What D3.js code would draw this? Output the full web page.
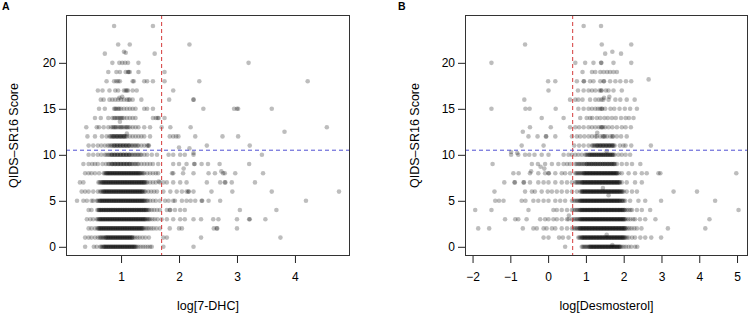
<!DOCTYPE html>
<html lang="en">
<head>
<meta charset="UTF-8">
<title>QIDS-SR16 score vs sterol levels</title>
<script src="https://d3js.org/d3.v7.min.js"></script>
<style>
  body { margin: 0; background: #fff; font-family: 'Liberation Sans', Arial, sans-serif; }
  .tick text { font-size: 12px; fill: #000; font-family: 'Liberation Sans', Arial, sans-serif; }
  .tick line { stroke: #222; }
  .title { font-size: 12.5px; fill: #000; }
  .letter { font-size: 10.5px; font-weight: bold; fill: #000; }
</style>
</head>
<body>
<div id="chart"></div>
<script>
// log[7-DHC] per participant, grouped by QIDS-SR16 score (index = score)
const dhcByScore = [
  [0.38,0.53,0.58,0.64,0.66,0.68,0.70,0.72,0.74,0.76,0.78,0.80,0.82,0.84,0.86,0.88,0.90,0.92,0.94,0.96,0.98,1.00,1.02,1.04,1.06,1.08,1.10,1.12,1.14,1.16,1.18,1.20,1.22,1.24,1.27,1.30,1.34,1.38,1.42,1.46,1.50,1.53,1.73,2.25],
  [0.38,0.44,0.49,0.55,0.60,0.63,0.65,0.67,0.69,0.71,0.73,0.75,0.77,0.79,0.81,0.83,0.85,0.87,0.89,0.91,0.93,0.95,0.97,0.99,1.01,1.03,1.05,1.07,1.09,1.11,1.13,1.15,1.17,1.19,1.21,1.24,1.28,1.32,1.37,1.42,1.48,1.73,1.79,2.38,3.75],
  [0.44,0.49,0.55,0.59,0.61,0.63,0.65,0.67,0.69,0.71,0.73,0.75,0.77,0.79,0.81,0.83,0.85,0.87,0.89,0.91,0.93,0.95,0.97,0.99,1.01,1.03,1.05,1.07,1.09,1.11,1.13,1.15,1.17,1.19,1.21,1.23,1.25,1.27,1.29,1.31,1.33,1.35,1.37,1.39,1.42,1.45,1.48,1.52,1.56,1.61,1.67,1.84,2.00,2.05,2.60,2.65,2.66,3.00],
  [0.41,0.47,0.52,0.58,0.60,0.62,0.64,0.66,0.68,0.70,0.72,0.74,0.76,0.78,0.80,0.82,0.84,0.86,0.88,0.90,0.92,0.94,0.96,0.98,1.00,1.02,1.04,1.06,1.08,1.10,1.12,1.14,1.16,1.18,1.20,1.22,1.24,1.26,1.28,1.30,1.32,1.34,1.36,1.38,1.40,1.42,1.44,1.46,1.48,1.50,1.54,1.58,1.63,1.70,1.79,1.90,2.02,2.10,2.25,2.38,2.59,2.68,3.00,3.21,3.22,3.49],
  [0.44,0.49,0.59,0.61,0.63,0.65,0.67,0.69,0.71,0.73,0.75,0.77,0.79,0.81,0.83,0.85,0.87,0.89,0.91,0.93,0.95,0.97,0.99,1.01,1.03,1.05,1.07,1.09,1.11,1.13,1.15,1.17,1.19,1.21,1.23,1.25,1.27,1.29,1.31,1.33,1.35,1.37,1.39,1.41,1.43,1.45,1.47,1.49,1.53,1.57,1.62,1.67,1.79,1.84,1.85,1.93,2.02,2.10,3.05,3.68],
  [0.24,0.35,0.41,0.49,0.52,0.58,0.60,0.62,0.64,0.66,0.68,0.70,0.72,0.74,0.76,0.78,0.80,0.82,0.84,0.86,0.88,0.90,0.92,0.94,0.96,0.98,1.00,1.02,1.04,1.06,1.08,1.10,1.12,1.14,1.16,1.18,1.20,1.22,1.24,1.26,1.28,1.30,1.32,1.34,1.36,1.38,1.40,1.42,1.44,1.46,1.50,1.55,1.60,1.67,1.76,1.82,1.90,1.93,2.05,2.13,2.20,2.28,2.39,2.40,2.51,2.71,4.19],
  [0.32,0.38,0.44,0.52,0.60,0.64,0.66,0.68,0.70,0.72,0.74,0.76,0.78,0.80,0.82,0.84,0.86,0.88,0.90,0.92,0.94,0.96,0.98,1.00,1.02,1.04,1.06,1.08,1.10,1.12,1.14,1.16,1.18,1.20,1.22,1.24,1.26,1.28,1.30,1.32,1.34,1.36,1.38,1.40,1.42,1.47,1.52,1.57,1.62,1.73,1.85,1.96,2.05,2.13,2.16,2.17,2.25,2.56,2.92,3.60,4.76],
  [0.29,0.35,0.61,0.63,0.65,0.67,0.69,0.71,0.73,0.75,0.77,0.79,0.81,0.83,0.85,0.87,0.89,0.91,0.93,0.95,0.97,0.99,1.01,1.03,1.05,1.07,1.09,1.11,1.13,1.15,1.17,1.19,1.21,1.23,1.25,1.27,1.29,1.31,1.33,1.35,1.37,1.39,1.41,1.43,1.45,1.50,1.55,1.60,1.67,1.73,1.79,1.90,2.02,2.13,2.48,2.71,2.79,2.80,2.91,3.31],
  [0.38,0.44,0.49,0.55,0.62,0.70,0.72,0.74,0.76,0.78,0.80,0.82,0.84,0.86,0.88,0.90,0.92,0.94,0.96,0.98,1.00,1.02,1.04,1.06,1.08,1.10,1.12,1.14,1.16,1.18,1.20,1.22,1.24,1.26,1.28,1.30,1.32,1.34,1.36,1.38,1.40,1.45,1.50,1.55,1.60,1.64,1.88,1.90,2.07,2.25,2.51,2.62,2.76,2.79,2.97,3.45],
  [0.35,0.44,0.50,0.55,0.60,0.68,0.74,0.78,0.80,0.83,0.85,0.88,0.90,0.93,0.95,0.98,1.00,1.03,1.05,1.08,1.10,1.13,1.15,1.18,1.20,1.23,1.25,1.28,1.30,1.35,1.40,1.45,1.50,1.55,1.64,1.90,2.00,2.13,2.26,2.27,2.39,2.50,2.70,3.21],
  [0.44,0.52,0.60,0.66,0.72,0.75,0.78,0.80,0.83,0.85,0.88,0.90,0.93,0.95,0.98,1.00,1.03,1.05,1.08,1.10,1.13,1.15,1.18,1.20,1.23,1.25,1.28,1.30,1.33,1.35,1.40,1.45,1.53,1.62,1.82,1.90,2.02,2.10,2.25,3.43],
  [0.44,0.52,0.60,0.66,0.72,0.77,0.80,0.83,0.85,0.88,0.90,0.93,0.95,0.98,1.00,1.03,1.05,1.08,1.10,1.13,1.15,1.18,1.20,1.23,1.25,1.28,1.30,1.35,1.40,1.45,1.47,1.48,2.48,3.22],
  [0.42,0.55,0.67,0.75,0.80,0.82,0.84,0.86,0.88,0.90,0.92,0.94,0.96,0.98,1.00,1.02,1.04,1.06,1.08,1.10,1.15,1.20,1.25,1.30,1.35,1.40,1.50,1.84,1.90,1.95,1.99,2.28,2.75,3.02],
  [0.40,0.58,0.62,0.70,0.78,0.83,0.86,0.88,0.90,0.92,0.95,0.98,1.00,1.02,1.05,1.08,1.10,1.12,1.15,1.20,1.25,1.30,1.40,1.50,1.70,1.85,2.20,4.55],
  [0.55,0.65,0.78,0.85,0.88,0.90,0.93,0.95,0.98,1.00,1.02,1.05,1.10,1.15,1.20,1.25,1.55,1.60,1.63,1.65,1.75],
  [0.62,0.72,0.88,0.90,0.92,0.95,0.97,1.00,1.05,1.10,1.15,1.20,1.25,1.40,1.45,1.55,2.42,2.95,3.00,3.02,3.60],
  [0.65,0.70,0.80,0.85,0.90,0.95,1.00,1.05,1.10,1.13,1.15,1.20,1.35,1.83,2.25,2.25],
  [0.60,0.68,0.80,0.90,0.95,1.05,1.08,1.10,1.12,1.20,1.27,1.90],
  [0.75,0.88,0.92,0.95,0.98,1.20,1.22,1.40,1.45,1.55,1.75,2.35,4.22],
  [0.78,0.92,0.98,1.08,1.12,1.13,1.15,1.30,1.75],
  [0.85,0.97,1.02,1.07,1.12,1.30,3.20],
  [0.72,1.58],
  [0.95,1.15,2.18],
  [],
  [0.88,1.55]
];
// further participants inside the crowded middle of each low score
const dhcCrowded = [
  [0.71,0.74,0.77,0.80,0.83,0.86,0.89,0.92,0.95,0.98,1.01,1.04,1.07,1.10,1.13,1.16,1.19,1.22,1.25],
  [0.74,0.77,0.80,0.83,0.86,0.89,0.92,0.95,0.98,1.01,1.04,1.07,1.10,1.13,1.16,1.19],
  [0.62,0.65,0.68,0.71,0.74,0.77,0.80,0.83,0.86,0.89,0.92,0.95,0.98,1.01,1.04,1.07,1.10,1.13,1.16,1.19,1.22,1.25,1.28,1.31,1.34,1.37],
  [0.63,0.66,0.69,0.72,0.75,0.78,0.81,0.84,0.87,0.90,0.93,0.96,0.99,1.02,1.05,1.08,1.11,1.14,1.17,1.20,1.23,1.26,1.29,1.32,1.35,1.38,1.41],
  [0.62,0.65,0.68,0.71,0.74,0.77,0.80,0.83,0.86,0.89,0.92,0.95,0.98,1.01,1.04,1.07,1.10,1.13,1.16,1.19,1.22,1.25,1.28,1.31,1.34,1.37,1.40,1.43],
  [0.64,0.67,0.70,0.73,0.76,0.79,0.82,0.85,0.88,0.91,0.94,0.97,1.00,1.03,1.06,1.09,1.12,1.15,1.18,1.21,1.24,1.27,1.30,1.33,1.36,1.39],
  [0.70,0.73,0.76,0.79,0.82,0.85,0.88,0.91,0.94,0.97,1.00,1.03,1.06,1.09,1.12,1.15,1.18,1.21,1.24,1.27,1.30,1.33,1.36],
  [0.68,0.71,0.74,0.77,0.80,0.83,0.86,0.89,0.92,0.95,0.98,1.01,1.04,1.07,1.10,1.13,1.16,1.19,1.22,1.25,1.28,1.31,1.34,1.37,1.40],
  [0.75,0.78,0.81,0.84,0.87,0.90,0.93,0.96,0.99,1.02,1.05,1.08,1.11,1.14,1.17,1.20,1.23,1.26,1.29,1.32],
  [0.85,0.90,0.95,1.00,1.05,1.10,1.15],
  [0.84,0.89,0.94,0.99,1.04,1.09,1.14],
  [0.88,0.93,0.98,1.03,1.08,1.13],
  [0.87,0.93,0.99,1.05]
];
// participants with non-integer scores: [log value, score]
const dhcOffLevel = [[1.05,21.2],[1.08,21.1],[0.97,16.2],[1.02,16.3],[3.82,12.5],[2.00,10.8],[2.18,10.7],[2.25,10.2],[1.10,12.3],[0.98,13.6],[1.65,7.1],[2.08,8.5],[2.73,8.2]];

// log[Desmosterol] per participant, grouped by QIDS-SR16 score
const desByScore = [
  [0.45,0.89,0.92,0.95,0.98,1.01,1.04,1.07,1.10,1.13,1.16,1.19,1.22,1.25,1.28,1.31,1.34,1.37,1.40,1.43,1.46,1.49,1.52,1.55,1.58,1.61,1.64,1.67,1.70,1.73,1.76,1.79,1.82,1.85,1.88,1.91,1.95,2.00,2.06,2.13,2.20,2.30,2.36],
  [-0.12,0.01,0.29,0.39,0.54,0.80,0.83,0.86,0.89,0.92,0.95,0.98,1.01,1.04,1.07,1.10,1.13,1.16,1.19,1.22,1.25,1.28,1.31,1.34,1.37,1.40,1.43,1.46,1.49,1.52,1.55,1.58,1.61,1.64,1.67,1.70,1.73,1.76,1.79,1.82,1.85,1.88,1.91,1.94,1.97,2.00,2.04,2.08,2.13,2.22,2.30,2.44,2.57,2.73,2.99],
  [-1.85,-1.56,-0.67,-0.39,-0.30,-0.12,-0.04,0.10,0.19,0.36,0.50,0.63,0.68,0.72,0.76,0.79,0.82,0.85,0.88,0.91,0.94,0.97,1.00,1.03,1.06,1.09,1.12,1.15,1.18,1.21,1.24,1.27,1.30,1.33,1.36,1.39,1.42,1.45,1.48,1.51,1.54,1.57,1.60,1.63,1.66,1.69,1.72,1.75,1.78,1.81,1.84,1.87,1.90,1.93,1.96,1.99,2.02,2.05,2.10,2.15,2.21,2.28,2.35,2.47,3.17,4.16],
  [-1.14,-0.87,-0.79,-0.57,-0.21,-0.08,0.01,0.14,0.23,0.36,0.50,0.54,0.63,0.68,0.72,0.76,0.79,0.82,0.85,0.88,0.91,0.94,0.97,1.00,1.03,1.06,1.09,1.12,1.15,1.18,1.21,1.24,1.27,1.30,1.33,1.36,1.39,1.42,1.45,1.48,1.51,1.54,1.57,1.60,1.63,1.66,1.69,1.72,1.75,1.78,1.81,1.84,1.87,1.90,1.93,1.96,1.99,2.02,2.06,2.12,2.18,2.25,2.30,2.43,2.57,2.84,4.27],
  [-1.93,-1.50,-0.52,0.14,0.23,0.36,0.50,0.63,0.68,0.72,0.76,0.79,0.82,0.85,0.88,0.91,0.94,0.97,1.00,1.03,1.06,1.09,1.12,1.15,1.18,1.21,1.24,1.27,1.30,1.33,1.36,1.39,1.42,1.45,1.48,1.51,1.54,1.57,1.60,1.63,1.66,1.69,1.72,1.75,1.78,1.81,1.84,1.87,1.90,1.93,1.96,1.99,2.03,2.08,2.13,2.18,2.22,2.35,2.48,2.70,5.04],
  [-1.40,-1.30,-1.18,-0.70,-0.60,-0.39,-0.26,-0.12,0.01,0.19,0.32,0.45,0.63,0.68,0.72,0.76,0.79,0.82,0.85,0.88,0.91,0.94,0.97,1.00,1.03,1.06,1.09,1.12,1.15,1.18,1.21,1.24,1.27,1.30,1.33,1.36,1.39,1.42,1.45,1.48,1.51,1.54,1.57,1.60,1.63,1.66,1.69,1.72,1.75,1.78,1.81,1.84,1.87,1.90,1.95,2.00,2.04,2.17,2.39,2.57,2.99,4.42],
  [-1.42,-0.61,-0.43,-0.35,-0.17,-0.01,0.10,0.23,0.36,0.50,0.63,0.76,0.85,0.88,0.91,0.94,0.97,1.00,1.03,1.06,1.09,1.12,1.15,1.18,1.21,1.24,1.27,1.30,1.33,1.36,1.39,1.42,1.45,1.48,1.51,1.54,1.57,1.60,1.63,1.66,1.69,1.72,1.75,1.78,1.81,1.84,1.87,1.90,1.94,1.97,2.00,2.08,2.22,2.35,3.32,3.94],
  [-1.16,-0.89,-0.88,-0.65,-0.64,-0.48,-0.26,-0.12,0.01,0.19,0.36,0.50,0.63,0.72,0.75,0.78,0.81,0.84,0.87,0.90,0.93,0.96,0.99,1.02,1.05,1.08,1.11,1.14,1.17,1.20,1.23,1.26,1.29,1.32,1.35,1.38,1.41,1.44,1.47,1.50,1.53,1.56,1.59,1.62,1.65,1.68,1.71,1.74,1.77,1.80,1.83,1.86,1.89,1.95,2.08,2.30,2.48],
  [-0.92,-0.78,-0.48,-0.26,-0.08,0.01,0.02,0.19,0.36,0.45,0.58,0.72,0.75,0.78,0.81,0.84,0.87,0.90,0.93,0.96,0.99,1.02,1.05,1.08,1.11,1.14,1.17,1.20,1.23,1.26,1.29,1.32,1.35,1.38,1.41,1.44,1.47,1.50,1.53,1.56,1.59,1.62,1.65,1.68,1.71,1.74,1.77,1.80,1.83,1.88,1.95,2.13,2.30,2.48,2.61,2.92,2.97,4.98],
  [-1.47,-0.43,-0.27,-0.08,0.10,0.27,0.41,0.50,0.58,0.72,0.76,0.80,0.83,0.87,0.90,0.94,0.97,1.01,1.04,1.08,1.11,1.15,1.18,1.22,1.25,1.29,1.32,1.36,1.39,1.43,1.46,1.50,1.53,1.57,1.60,1.64,1.67,1.71,1.74,1.77,1.82,1.95,2.08,2.22,2.44],
  [-0.98,-0.79,-0.61,-0.50,-0.36,-0.17,0.01,0.41,0.54,0.63,0.72,0.80,0.89,0.98,1.01,1.04,1.07,1.10,1.13,1.16,1.19,1.22,1.25,1.28,1.31,1.34,1.37,1.40,1.43,1.46,1.49,1.52,1.55,1.58,1.61,1.64,1.67,1.70,1.73,1.76,1.86,1.95,2.05,2.17],
  [-0.70,-0.12,0.69,0.82,0.94,1.07,1.16,1.19,1.22,1.25,1.28,1.31,1.34,1.37,1.40,1.43,1.46,1.49,1.52,1.55,1.58,1.61,1.64,1.67,1.70,1.73,1.76,1.90,1.99,2.05,2.20,2.72],
  [-0.52,-0.28,-0.06,-0.05,0.19,0.63,0.76,0.85,0.96,1.07,1.16,1.25,1.29,1.38,1.45,1.47,1.50,1.56,1.65,1.70,1.72,1.82,1.93,2.08],
  [-0.48,0.07,0.58,0.72,0.82,0.94,1.07,1.16,1.25,1.34,1.40,1.42,1.45,1.51,1.60,1.70,1.82,1.95,2.05,2.19],
  [-0.17,0.41,0.85,1.02,1.11,1.17,1.29,1.38,1.49,1.58,1.69,1.79,1.93,2.05,2.14,2.26],
  [-1.50,-0.60,-0.49,0.20,0.80,0.94,1.07,1.16,1.25,1.32,1.38,1.42,1.43,1.51,1.65,1.75,1.89,2.03,2.17,2.35],
  [-0.63,0.58,0.72,0.80,0.91,1.11,1.25,1.34,1.41,1.46,1.60,1.78,1.91,2.08,2.29],
  [0.01,0.79,0.94,1.07,1.16,1.25,1.36,1.40,1.42,1.53,1.60,1.73,1.95],
  [0.00,0.19,0.76,0.94,0.95,1.11,1.20,1.38,1.47,1.48,1.64,1.78,1.91,2.06,2.20],
  [0.91,1.16,1.25,1.38,1.47,1.56,1.64,1.73,1.82],
  [-1.50,0.72,0.98,1.20,1.40,1.41,1.73,2.20],
  [1.51,1.93],
  [-0.61,1.42,2.20],
  [],
  [0.94,1.40]
];
const desCrowded = [
  [1.10,1.14,1.18,1.22,1.26,1.30,1.34,1.38,1.42,1.46,1.50,1.54,1.58,1.62,1.66,1.70,1.74,1.78,1.82,1.86,1.90],
  [0.90,0.94,0.98,1.02,1.06,1.10,1.14,1.18,1.22,1.26,1.30,1.34,1.38,1.42,1.46,1.50,1.54,1.58,1.62,1.66,1.70,1.74,1.78,1.82,1.86,1.90,1.94,1.98,2.02],
  [0.84,0.88,0.92,0.96,1.00,1.04,1.08,1.12,1.16,1.20,1.24,1.28,1.32,1.36,1.40,1.44,1.48,1.52,1.56,1.60,1.64,1.68,1.72,1.76,1.80,1.84,1.88,1.92,1.96,2.00,2.04],
  [0.86,0.90,0.94,0.98,1.02,1.06,1.10,1.14,1.18,1.22,1.26,1.30,1.34,1.38,1.42,1.46,1.50,1.54,1.58,1.62,1.66,1.70,1.74,1.78,1.82,1.86,1.90,1.94,1.98,2.02],
  [0.86,0.90,0.94,0.98,1.02,1.06,1.10,1.14,1.18,1.22,1.26,1.30,1.34,1.38,1.42,1.46,1.50,1.54,1.58,1.62,1.66,1.70,1.74,1.78,1.82,1.86,1.90,1.94,1.98,2.02],
  [0.86,0.90,0.94,0.98,1.02,1.06,1.10,1.14,1.18,1.22,1.26,1.30,1.34,1.38,1.42,1.46,1.50,1.54,1.58,1.62,1.66,1.70,1.74,1.78,1.82,1.86,1.90,1.94,1.98],
  [0.90,0.94,0.98,1.02,1.06,1.10,1.14,1.18,1.22,1.26,1.30,1.34,1.38,1.42,1.46,1.50,1.54,1.58,1.62,1.66,1.70,1.74,1.78,1.82,1.86,1.90,1.94],
  [0.90,0.94,0.98,1.02,1.06,1.10,1.14,1.18,1.22,1.26,1.30,1.34,1.38,1.42,1.46,1.50,1.54,1.58,1.62,1.66,1.70,1.74,1.78,1.82,1.86,1.90],
  [0.95,0.99,1.03,1.07,1.11,1.15,1.19,1.23,1.27,1.31,1.35,1.39,1.43,1.47,1.51,1.55,1.59,1.63,1.67,1.71,1.75,1.79,1.83],
  [1.02,1.08,1.14,1.20,1.26,1.32,1.38,1.44,1.50,1.56,1.62,1.68,1.74],
  [1.10,1.16,1.22,1.28,1.34,1.40,1.46,1.52,1.58,1.64,1.70],
  [1.30,1.38,1.46,1.54,1.62,1.70]
];
const desOffLevel = [[1.70,21.2],[2.66,18.2],[1.62,16.3],[1.48,16.2],[-0.67,12.5],[-0.98,10.3],[-0.82,10.2],[1.55,10.4],[1.30,12.4],[-0.20,8.7],[-0.10,8.5],[-0.45,8.2],[1.45,6.4],[1.60,5.6],[0.55,3.4],[1.55,1.3],[1.70,0.2]];

const scoreTicks = [0, 5, 10, 15, 20];
const dhcTicks = [1, 2, 3, 4];
const desTicks = [-2, -1, 0, 1, 2, 3, 4, 5];
const dhcCutoff = 1.7;
const desCutoff = 0.65;
const scoreCutoff = 10.5;

const width = 750, height = 316;
const plotTop = 15, plotBottom = 256;

const svg = d3.select("#chart").append("svg")
  .attr("width", width)
  .attr("height", height);

const y = d3.scaleLinear().domain([-1.0, 25.2]).range([plotBottom, plotTop]);

const panels = [
  { letter: "A", lx: 2, left: 66, right: 350, domain: [0.05, 4.95], ticks: dhcTicks,
    rows: [dhcByScore, dhcCrowded], extra: dhcOffLevel, cut: dhcCutoff, xlabel: "log[7-DHC]", ylabelX: 14 },
  { letter: "B", lx: 398, left: 465, right: 748, domain: [-2.2, 5.29], ticks: desTicks,
    rows: [desByScore, desCrowded], extra: desOffLevel, cut: desCutoff, xlabel: "log[Desmosterol]", ylabelX: 415 }
];

panels.forEach(p => {
  const x = d3.scaleLinear().domain(p.domain).range([p.left, p.right]);
  const g = svg.append("g");

  const pts = [];
  p.rows.forEach(table => table.forEach((vals, score) => vals.forEach(v => pts.push([v, score]))));
  p.extra.forEach(d => pts.push(d));

  g.append("g").selectAll("circle")
    .data(pts)
    .enter().append("circle")
    .attr("cx", d => x(d[0]))
    .attr("cy", d => y(d[1]))
    .attr("r", 2.3)
    .attr("fill", "#000")
    .attr("fill-opacity", 0.26);

  // cut-off lines
  g.append("line")
    .attr("x1", x(p.cut)).attr("x2", x(p.cut))
    .attr("y1", plotTop).attr("y2", plotBottom)
    .attr("stroke", "#d43a3a").attr("stroke-width", 1)
    .attr("stroke-dasharray", "4,3");
  g.append("line")
    .attr("x1", p.left).attr("x2", p.right)
    .attr("y1", y(scoreCutoff)).attr("y2", y(scoreCutoff))
    .attr("stroke", "#5050d2").attr("stroke-width", 1)
    .attr("stroke-dasharray", "4,3");

  g.append("rect")
    .attr("x", p.left + 0.5).attr("y", plotTop + 0.5)
    .attr("width", p.right - p.left - 1).attr("height", plotBottom - plotTop - 1)
    .attr("fill", "none").attr("stroke", "#333");

  const xAxis = g.append("g")
    .attr("transform", `translate(0,${plotBottom})`)
    .call(d3.axisBottom(x).tickValues(p.ticks).tickSize(7).tickPadding(9)
      .tickFormat(d => d < 0 ? "\u2212" + Math.abs(d) : d));
  xAxis.select(".domain").remove();

  const yAxis = g.append("g")
    .attr("transform", `translate(${p.left},0)`)
    .call(d3.axisLeft(y).tickValues(scoreTicks).tickSize(7).tickPadding(3));
  yAxis.select(".domain").remove();

  g.append("text").attr("class", "title")
    .attr("x", (p.left + p.right) / 2).attr("y", 310)
    .attr("text-anchor", "middle")
    .text(p.xlabel);

  g.append("text").attr("class", "title")
    .attr("transform", `translate(${p.ylabelX},${(plotTop + plotBottom) / 2}) rotate(-90)`)
    .attr("text-anchor", "middle")
    .attr("dy", "0.35em")
    .text("QIDS\u2013SR16 Score");

  g.append("text").attr("class", "letter")
    .attr("x", p.lx).attr("y", 10)
    .text(p.letter);
});
</script>
</body>
</html>
